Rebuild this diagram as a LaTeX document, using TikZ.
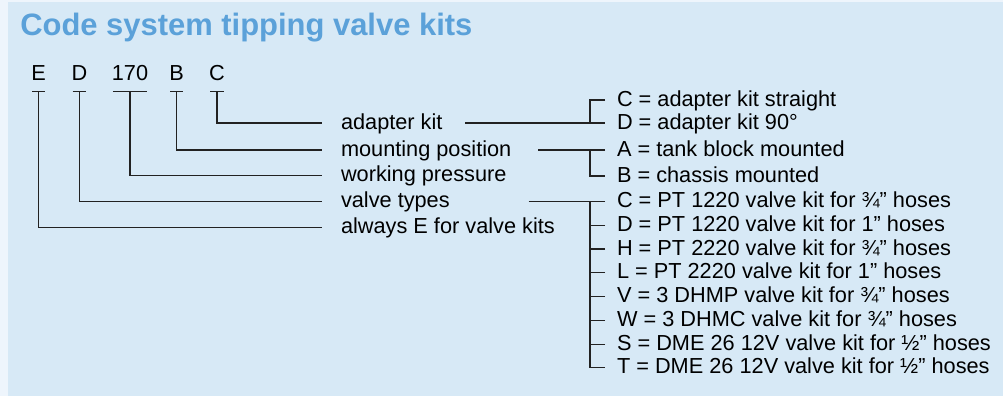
\documentclass[tikz,border=0pt]{standalone}
\usepackage{fontspec}
\setmainfont{Liberation Sans}
\definecolor{dveafv}{HTML}{D7E9F6}
\definecolor{eefvfc}{HTML}{EEF5FC}
\definecolor{vbaadz}{HTML}{5BA1D9}
\definecolor{zzzzzz}{HTML}{222222}

\begin{document}
\begin{tikzpicture}[x=0.75pt,y=-0.75pt,
code/.style={font=\fontsize{16.3}{19}\selectfont,inner ysep=0pt,inner xsep=-1pt,text height=9pt,text depth=7.875pt,anchor=base},
field/.style={font=\fontsize{16.3}{19}\selectfont,inner sep=0pt,outer xsep=14.25pt,text height=9pt,text depth=0pt,anchor=west},
choice/.style={field,outer xsep=9pt},
link/.style={draw=zzzzzz,line width=0.85pt}]
\useasboundingbox (0,0) rectangle (1003,396);
\fill[eefvfc] (0,0) rectangle (1003,396);
\fill[dveafv] (8,2) rectangle (1003,396);
\node[font=\fontsize{23.2}{27}\selectfont\bfseries,text=vbaadz,anchor=base west,inner sep=0pt] (title) at (20,35) {Code system tipping valve kits};
\node[code] (kE) at (38.5,80.5) {E};
\node[code] (kD) at (79.5,80.5) {D};
\node[code] (kP) at (130,80.5) {170};
\node[code] (kB) at (176.5,80.5) {B};
\node[code] (kC) at (217,80.5) {C};
\node[field] (fAdapter) at (322,123) {adapter kit};
\node[field] (fMount) at (322,150) {mounting position};
\node[field] (fPress) at (322,175.5) {working pressure};
\node[field] (fType) at (322,201.5) {valve types};
\node[field] (fAlways) at (322,227.5) {always E for valve kits};
\node[choice] (cC) at (605,100) {C = adapter kit straight};
\node[choice] (cD) at (605,123) {D = adapter kit 90°};
\node[choice] (cA) at (605,150) {A = tank block mounted};
\node[choice] (cB) at (605,176) {B = chassis mounted};
\foreach \t [count=\i from 0] in {C = PT 1220 valve kit for ¾” hoses,D = PT 1220 valve kit for 1” hoses,H = PT 2220 valve kit for ¾” hoses,L = PT 2220 valve kit for 1” hoses,V = 3 DHMP valve kit for ¾” hoses,W = 3 DHMC valve kit for ¾” hoses,S = DME 26 12V valve kit for ½” hoses,T = DME 26 12V valve kit for ½” hoses}
  \node[choice] (v\i) at (605,201.5+23.77*\i) {\t};
\foreach \k in {kE,kD,kP,kB,kC}
  \draw[link] (\k.south west) -- (\k.south east);
\draw[link] (kC.south) |- (fAdapter.west);
\draw[link] (kB.south) |- (fMount.west);
\draw[link] (kP.south) |- (fPress.west);
\draw[link] (kD.south) |- (fType.west);
\draw[link] (kE.south) |- (fAlways.west);
\draw[link] ([xshift=3pt]fAdapter.east) -- (cD.west);
\draw[link] (cC.west) -- ++(-15,0) |- (cD.west);
\draw[link] ([xshift=6pt]fMount.east) -- (cA.west);
\draw[link] (cA.west) -- ++(-15,0) |- (cB.west);
\draw[link] ([xshift=45pt]fType.east) -- (v0.west);
\draw[link] (v0.west) -- ++(-15,0) |- (v7.west);
\foreach \i in {1,...,6}
  \draw[link] (v\i.west) -- ++(-15,0);
\end{tikzpicture}
\end{document}
